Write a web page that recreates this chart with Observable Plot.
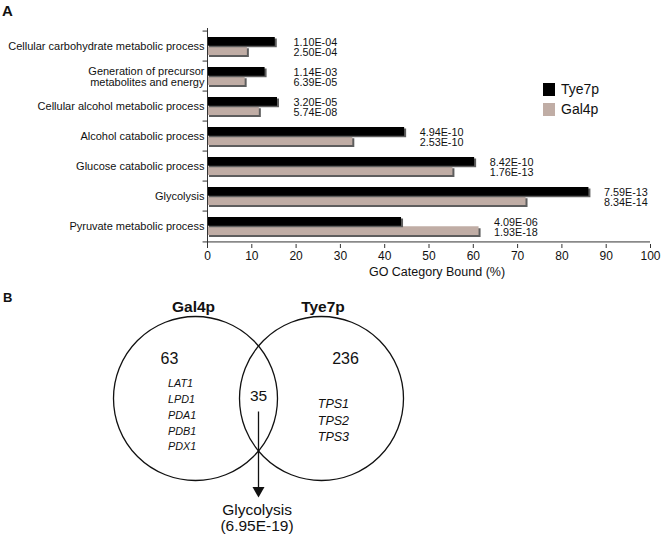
<!DOCTYPE html>
<html>
<head>
<meta charset="utf-8">
<script src="https://cdn.jsdelivr.net/npm/d3@7"></script>
<script src="https://cdn.jsdelivr.net/npm/@observablehq/plot@0.6"></script>
<style>
  html, body { margin: 0; padding: 0; background: #fff; }
  body { font-family: "Liberation Sans", Arial, Helvetica, sans-serif; color: #111; }
  #wrap { position: relative; width: 662px; height: 540px; overflow: hidden; }
  .panel { position: absolute; font-weight: bold; }
  .legend { position: absolute; left: 543px; top: 79px; font-size: 14px; }
  .legend .row { display: flex; align-items: center; height: 20px; }
  .legend .sw { width: 12px; height: 13px; margin-right: 6px; }
  svg { display: block; }
</style>
</head>
<body>
<div id="wrap">
  <div id="chartA"></div>
  <div id="chartB"></div>
</div>
<script>
// ---------- Panel A data ----------
const categories = [
  "Cellular carbohydrate metabolic process",
  "Generation of precursor\nmetabolites and energy",
  "Cellular alcohol metabolic process",
  "Alcohol catabolic process",
  "Glucose catabolic process",
  "Glycolysis",
  "Pyruvate metabolic process"
];
const tye7pValues = [15.3, 13.0, 15.8, 44.5, 60.3, 86.1, 43.8];
const gal4pValues = [9.0, 8.5, 11.7, 32.8, 55.4, 71.9, 61.3];
const tye7pPvals = ["1.10E-04", "1.14E-03", "3.20E-05", "4.94E-10", "8.42E-10", "7.59E-13", "4.09E-06"];
const gal4pPvals = ["2.50E-04", "6.39E-05", "5.74E-08", "2.53E-10", "1.76E-13", "8.34E-14", "1.93E-18"];
const seriesNames = ["Tye7p", "Gal4p"];
const xTicks = [0, 10, 20, 30, 40, 50, 60, 70, 80, 90, 100];
const xLabel = "GO Category Bound (%)";

// ---------- Panel B data ----------
const vennSets = ["Gal4p", "Tye7p"];
const vennOnlyCounts = [63, 236];
const vennSharedCount = 35;
const gal4pGenes = ["LAT1", "LPD1", "PDA1", "PDB1", "PDX1"];
const tye7pGenes = ["TPS1", "TPS2", "TPS3"];
const sharedTerm = "Glycolysis";
const sharedP = "(6.95E-19)";

const FONT = '"Liberation Sans", Arial, Helvetica, sans-serif';
const BLACK = "#000000";
const TAUPE = "#c0ada5";
const SHADOW = "#5e5e5e";

// ---------- Panel A ----------
const rows = categories.map((c, i) => ({
  cat: c, tye: tye7pValues[i], gal: gal4pValues[i], pt: tye7pPvals[i], pg: gal4pPvals[i]
}));
const topY = 28, botY = 244, hA = 290;
const step = (botY - topY) / categories.length;
const pad = 0.4;
const bw = step * (1 - pad);

const chartA = Plot.plot({
  width: 662, height: hA,
  marginLeft: 207, marginRight: 12, marginTop: topY, marginBottom: hA - botY,
  style: { fontFamily: FONT, fontSize: "12px", color: "#111", background: "transparent" },
  x: { domain: [0, 100], axis: null },
  y: { domain: categories, paddingInner: pad, paddingOuter: pad / 2, axis: null },
  marks: [
    Plot.barX(rows, { y: "cat", x: "gal", insetTop: bw / 2, fill: SHADOW, dx: 2, dy: 2 }),
    Plot.barX(rows, { y: "cat", x: "gal", insetTop: bw / 2, fill: TAUPE }),
    Plot.barX(rows, { y: "cat", x: "tye", insetBottom: bw / 2, fill: SHADOW, dx: 2, dy: 1.5 }),
    Plot.barX(rows, { y: "cat", x: "tye", insetBottom: bw / 2, fill: BLACK }),
    // axis lines
    Plot.ruleX([0], { stroke: "#333", strokeWidth: 1 }),
    Plot.ruleY(categories, { y: d => d, dy: -step / 2, x1: -1, x2: 0, stroke: "#333" }),
    Plot.ruleY([categories[categories.length - 1]], { y: d => d, dy: step / 2, x1: -1, x2: 100, stroke: "#333" }),
    Plot.axisX({ ticks: xTicks, tickSize: 4, tickPadding: 3, label: null, fontSize: 12, stroke: "#333" }),
    Plot.text([xLabel], { text: d => d, frameAnchor: "bottom", dy: 31, dx: 8, fontSize: 12.5 }),
    // category labels
    Plot.text(categories, { y: d => d, text: d => d, frameAnchor: "left", textAnchor: "end", dx: -3, fontSize: 11, lineHeight: 1 }),
    // p-value labels
    Plot.text(rows, {
      y: "cat", x: d => Math.max(d.tye, d.gal, 16),
      text: d => d.pt + "\n" + d.pg,
      textAnchor: "start", dx: 15, dy: 1, fontSize: 10.8, lineHeight: 1
    })
  ]
});
document.getElementById("chartA").appendChild(chartA);

// panel letters & legend
const wrap = document.getElementById("wrap");
function addDiv(cls, html, style) {
  const d = document.createElement("div");
  d.className = cls; d.innerHTML = html; Object.assign(d.style, style);
  wrap.appendChild(d); return d;
}
addDiv("panel", "A", { left: "2px", top: "2px", fontSize: "15px" });
addDiv("panel", "B", { left: "3px", top: "290px", fontSize: "13px" });
const legend = addDiv("legend", "", {});
[[seriesNames[0], BLACK], [seriesNames[1], TAUPE]].forEach(([name, col]) => {
  const r = document.createElement("div"); r.className = "row";
  r.innerHTML = `<div class="sw" style="background:${col}"></div><span>${name}</span>`;
  legend.appendChild(r);
});

// ---------- Panel B (Venn) ----------
const offB = hA, hB = 540 - hA;
const R = 82, cy = 398, cxL = 195, cxR = 321;
const circles = [{ x: cxL, y: cy, name: vennSets[0], n: vennOnlyCounts[0] },
                 { x: cxR, y: cy, name: vennSets[1], n: vennOnlyCounts[1] }];
const sharedX = (cxL + cxR) / 2;
const tipY = 497, triR = 4.45;
const triHalf = Math.sqrt(Math.PI * triR * triR / (Math.sqrt(3) * 3));

const chartB = Plot.plot({
  width: 662, height: hB, margin: 0,
  style: { fontFamily: FONT, color: "#111", background: "transparent" },
  x: { domain: [0, 662], range: [0, 662], axis: null },
  y: { domain: [offB, 540], range: [0, hB], axis: null },
  marks: [
    Plot.dot(circles, { x: "x", y: "y", r: R, stroke: "#111", strokeWidth: 1.3, fill: "none" }),
    Plot.text(circles, { x: (d, i) => d.x + (i === 0 ? -2 : 1.5), y: cy - R - 9.5, text: "name", fontWeight: "bold", fontSize: 15.5 }),
    Plot.text([vennOnlyCounts[0]], { x: cxL - 26, y: 358.5, text: d => d, fontSize: 16 }),
    Plot.text([vennOnlyCounts[1]], { x: cxR + 24, y: 358, text: d => d, fontSize: 16 }),
    Plot.text([vennSharedCount], { x: sharedX, y: 396, text: d => d, fontSize: 15.5 }),
    Plot.text(gal4pGenes, { x: cxL - 27.5, y: (d, i) => 383.3 + 15.8 * i, text: d => d, textAnchor: "start", fontStyle: "italic", fontSize: 10.8 }),
    Plot.text(tye7pGenes, { x: cxR - 3.7, y: (d, i) => 403.5 + 16.5 * i, text: d => d, textAnchor: "start", fontStyle: "italic", fontSize: 12.5 }),
    Plot.link([0], { x1: sharedX, x2: sharedX, y1: 411, y2: tipY - 2 * triHalf, stroke: "#111", strokeWidth: 1.3 }),
    Plot.dot([0], { x: sharedX, y: tipY - 2 * triHalf, symbol: "triangle", rotate: 180, r: triR, fill: "#111", stroke: "none" }),
    Plot.text([sharedTerm + "\n" + sharedP], { x: sharedX - 1.5, y: 517.5, text: d => d, fontSize: 15.5, lineHeight: 1.03 })
  ]
});
document.getElementById("chartB").appendChild(chartB);
</script>
</body>
</html>
